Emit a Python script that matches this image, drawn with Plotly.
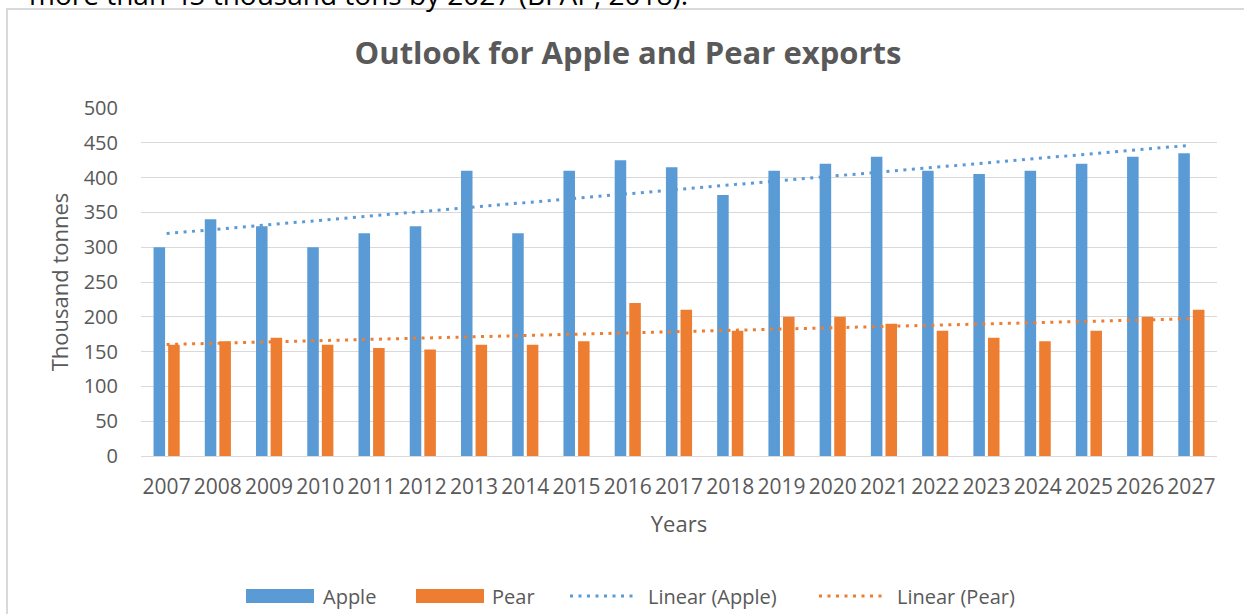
import numpy as np
import plotly.graph_objects as go

# ---- data (thousand tonnes) ----
years = ["2007", "2008", "2009", "2010", "2011", "2012", "2013", "2014", "2015", "2016",
         "2017", "2018", "2019", "2020", "2021", "2022", "2023", "2024", "2025", "2026", "2027"]
apple = [300, 340, 330, 300, 320, 330, 410, 320, 410, 425,
         415, 375, 410, 420, 430, 410, 405, 410, 420, 430, 435]
pear = [160, 165, 170, 160, 155, 153, 160, 160, 165, 220,
        210, 180, 200, 200, 190, 180, 170, 165, 180, 200, 210]
y_ticks = [0, 50, 100, 150, 200, 250, 300, 350, 400, 450, 500]

APPLE_C = "#5b9bd5"
PEAR_C = "#ed7d31"
TEXT_C = "#595959"
GRID_C = "#d9d9d9"
FONT = "Open Sans"
DOT = "3px,5.5px"

# least-squares linear trend of each series
idx = np.arange(len(years))
apple_fit = np.polyval(np.polyfit(idx, apple, 1), idx)
pear_fit = np.polyval(np.polyfit(idx, pear, 1), idx)

W, H = 1244, 614
L, R, T, B = 141, 27, 108, 158
PW, PH = W - L - R, H - T - B


def px(x):
    return (x - L) / PW


def py(y):
    return (H - B - y) / PH


fig = go.Figure()
fig.add_trace(go.Bar(x=years, y=apple, name="Apple", marker_color=APPLE_C, marker_line_width=0))
fig.add_trace(go.Bar(x=years, y=pear, name="Pear", marker_color=PEAR_C, marker_line_width=0))
fig.add_trace(go.Scatter(x=years, y=apple_fit, mode="lines", name="Linear (Apple)",
                         line=dict(color=APPLE_C, width=3, dash=DOT)))
fig.add_trace(go.Scatter(x=years, y=pear_fit, mode="lines", name="Linear (Pear)",
                         line=dict(color=PEAR_C, width=3, dash=DOT)))

shapes = []
annotations = []

# chart frame
shapes.append(dict(type="rect", xref="paper", yref="paper",
                   x0=px(7), x1=px(1300), y0=py(9), y1=py(700),
                   line=dict(color=GRID_C, width=2), fillcolor="rgba(0,0,0,0)", layer="below"))

# legend row
leg_y = 596
legend_items = [
    ("bar", APPLE_C, 246, 314, "Apple", 321),
    ("bar", PEAR_C, 416, 484, "Pear", 490),
    ("line", APPLE_C, 570, 638, "Linear (Apple)", 646),
    ("line", PEAR_C, 819, 887, "Linear (Pear)", 895),
]
for kind, col, x0, x1, label, tx in legend_items:
    if kind == "bar":
        shapes.append(dict(type="rect", xref="paper", yref="paper",
                           x0=px(x0), x1=px(x1), y0=py(leg_y + 7), y1=py(leg_y - 7),
                           fillcolor=col, line=dict(width=0)))
    else:
        shapes.append(dict(type="line", xref="paper", yref="paper",
                           x0=px(x0), x1=px(x1), y0=py(leg_y), y1=py(leg_y),
                           line=dict(color=col, width=3, dash=DOT)))
    annotations.append(dict(text=label, xref="paper", yref="paper", x=px(tx), y=py(leg_y),
                            xanchor="left", yanchor="middle", showarrow=False,
                            font=dict(family=FONT, size=20, color=TEXT_C)))

# surrounding document line above the chart
annotations.append(dict(text="more than 45 thousand tons by 2027 (BFAP, 2018).",
                        xref="paper", yref="paper", x=px(27), y=py(15),
                        xanchor="left", yanchor="bottom", showarrow=False,
                        font=dict(family=FONT, size=28, color="#000000")))

fig.update_layout(
    width=W, height=H,
    margin=dict(l=L, r=R, t=T, b=B),
    paper_bgcolor="white", plot_bgcolor="white",
    barmode="group", bargap=0.43, bargroupgap=0.21,
    showlegend=False,
    title=dict(text="<b>Outlook for Apple and Pear exports</b>",
               xref="container", yref="container",
               x=628 / W, y=1 - 53 / H, xanchor="center", yanchor="middle",
               font=dict(family=FONT, size=31, color=TEXT_C)),
    font=dict(family=FONT, color=TEXT_C),
    shapes=shapes,
    annotations=annotations,
)
fig.update_xaxes(
    type="category", showgrid=False, showline=True, linecolor=GRID_C, linewidth=1.3,
    ticks="", tickfont=dict(family=FONT, size=21, color=TEXT_C), ticklabelstandoff=12,
    title=dict(text="Years", font=dict(family=FONT, size=22, color=TEXT_C), standoff=17),
)
fig.update_yaxes(
    range=[0, 500], tickvals=y_ticks, showgrid=True, gridcolor=GRID_C, gridwidth=1.3,
    zeroline=False, showline=False, ticks="",
    tickfont=dict(family=FONT, size=20, color=TEXT_C), ticklabelstandoff=22,
    title=dict(text="Thousand tonnes", font=dict(family=FONT, size=22, color=TEXT_C), standoff=8),
)

fig.write_html("out.html")
